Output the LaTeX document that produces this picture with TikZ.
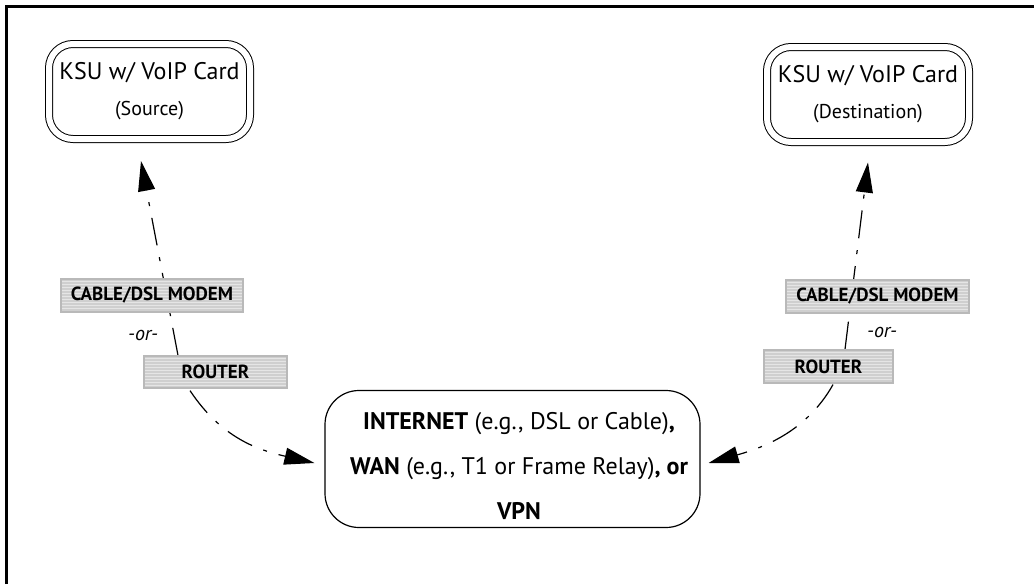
\documentclass[tikz,border=0pt]{standalone}
\usepackage{fontspec}
\setmainfont{PT Sans}
\usetikzlibrary{arrows.meta,backgrounds}
\begin{document}
\begin{tikzpicture}[x=0.5pt,y=-0.5pt,
  ksu/.style={draw, double, double distance=3pt, line width=0.5pt, rounded corners=12pt,
    inner sep=0pt, align=center, minimum width=100.5pt, minimum height=47.5pt},
  cloud/.style={draw, line width=0.6pt, rounded corners=17pt, inner sep=0pt,
    minimum width=187.5pt, minimum height=68.5pt},
  cloudtext/.style={inner sep=0pt, align=center, font=\fontsize{12}{22.5}\selectfont},
  lbl/.style={draw=gray!55, line width=0.6pt, fill=gray!38, inner sep=0pt,
    font=\fontsize{9.5}{10}\selectfont\bfseries,
    path picture={\foreach \k in {1,...,14}{
      \draw[white!80!gray, line width=0.45pt]
        ([yshift={0.3pt-1.5pt*\k}]path picture bounding box.north west) --
        ([yshift={0.3pt-1.5pt*\k}]path picture bounding box.north east);}}},
  orlbl/.style={font=\fontsize{10}{11}\selectfont\itshape, inner sep=0pt},
  conn/.style={line width=0.6pt, dash pattern=on 14pt off 6pt on 2pt off 6pt,
    -{Triangle[length=15pt,width=8.5pt]}}
]
\useasboundingbox (0,0) rectangle (1034,584);
% frame (top and left edges)
\draw[line width=1.5pt] (6.5,584) -- (6.5,6.5) -- (1034,6.5);

% KSU boxes
\node[ksu] (src) at (149.5,91.5) {{\fontsize{12}{14}\selectfont KSU w/ VoIP Card}\\[6pt]{\fontsize{10}{12}\selectfont (Source)}};
\node[ksu, minimum width=101pt] (dst) at (868,94.5) {{\fontsize{12}{14}\selectfont KSU w/ VoIP Card}\\[6pt]{\fontsize{10}{12}\selectfont (Destination)}};

% network
\node[cloud] (net) at (512.5,459) {};
\node[cloudtext] (nettxt) at (519,466) {\textbf{INTERNET} (e.g., DSL or Cable)\textbf{,}\\
  \textbf{WAN} (e.g., T1 or Frame Relay)\textbf{, or}\\
  \textbf{VPN}};

% labels left
\node[lbl, minimum width=91pt, minimum height=16.5pt] (ml) at (152,295.5) {CABLE/DSL MODEM};
\node[lbl, minimum width=71.5pt, minimum height=16pt] (rl) at (215.5,372) {ROUTER};
\node[orlbl] (orl) at (143,335) {-or-};
% labels right
\node[lbl, minimum width=91.5pt, minimum height=16.5pt] (mr) at (877.5,296.5) {CABLE/DSL MODEM};
\node[lbl, minimum width=64.5pt, minimum height=16.5pt] (rr) at (828.5,366.5) {ROUTER};
\node[orlbl] (orr) at (882,332) {-or-};

% connectors
\begin{scope}[on background layer]
\draw[conn] ([xshift=-18.75pt]rl.north) -- ([xshift=-4.25pt,yshift=-10.75pt]src.south);
\draw[conn] ([xshift=8.25pt]rr.north) -- ([yshift=-10pt]dst.south);
\draw[conn] ([xshift=-12.75pt,yshift=-1pt]rl.south) .. controls +(32,48) and +(-56,-13) .. ([xshift=-5pt,yshift=-2pt]net.west);
\draw[conn] ([xshift=2.25pt,yshift=-0.5pt]rr.south) .. controls +(-27,48) and +(53,-15) .. ([xshift=4pt,yshift=-2pt]net.east);
\end{scope}
\end{tikzpicture}
\end{document}
